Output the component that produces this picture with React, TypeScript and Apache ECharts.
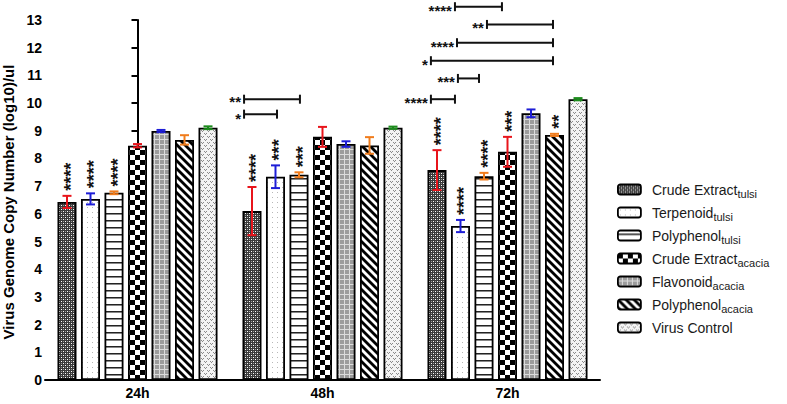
import React, { useEffect, useRef } from 'react';
import * as echarts from 'echarts';

const categories = ['24h', '48h', '72h'];
const seriesMain = ['Crude Extract', 'Terpenoid', 'Polyphenol', 'Crude Extract', 'Flavonoid', 'Polyphenol', 'Virus Control'];
const seriesSub = ['tulsi', 'tulsi', 'tulsi', 'acacia', 'acacia', 'acacia', ''];

const crudeTulsi = [6.43, 6.1, 7.58];
const terpenoidTulsi = [6.54, 7.34, 5.56];
const polyphenolTulsi = [6.76, 7.41, 7.36];
const crudeAcacia = [8.46, 8.78, 8.24];
const flavonoidAcacia = [8.99, 8.52, 9.63];
const polyphenolAcacia = [8.67, 8.47, 8.85];
const virusControl = [9.11, 9.11, 10.14];

const errCrudeTulsi = [0.22, 0.87, 0.72];
const errTerpenoidTulsi = [0.2, 0.41, 0.22];
const errPolyphenolTulsi = [0.05, 0.09, 0.12];
const errCrudeAcacia = [0.06, 0.36, 0.54];
const errFlavonoidAcacia = [0.04, 0.1, 0.14];
const errPolyphenolAcacia = [0.17, 0.3, 0.04];
const errVirusControl = [0.05, 0.04, 0.04];

const starsCrudeTulsi = ['****', '****', '****'];
const starsTerpenoidTulsi = ['****', '***', '****'];
const starsPolyphenolTulsi = ['****', '***', '****'];
const starsCrudeAcacia = ['', '', '***'];
const starsFlavonoidAcacia = ['', '', ''];
const starsPolyphenolAcacia = ['', '', '**'];
const starsVirusControl = ['', '', ''];

// significance brackets: label, start/end (category units), height (log10 units)
const bracketLabels = ['**', '*', '****', '**', '****', '*', '***', '****'];
const bracketStart = [0.576, 0.576, 1.716, 1.889, 1.727, 1.586, 1.732, 1.586];
const bracketEnd = [0.878, 0.754, 1.97, 2.246, 2.246, 2.246, 1.846, 1.716];
const bracketY = [10.14, 9.6, 13.48, 12.84, 12.18, 11.53, 10.89, 10.14];

const yTicks = { min: 0, max: 13, interval: 1 };

const values = [crudeTulsi, terpenoidTulsi, polyphenolTulsi, crudeAcacia, flavonoidAcacia, polyphenolAcacia, virusControl];
const errors = [errCrudeTulsi, errTerpenoidTulsi, errPolyphenolTulsi, errCrudeAcacia, errFlavonoidAcacia, errPolyphenolAcacia, errVirusControl];
const stars = [starsCrudeTulsi, starsTerpenoidTulsi, starsPolyphenolTulsi, starsCrudeAcacia, starsFlavonoidAcacia, starsPolyphenolAcacia, starsVirusControl];

const errColors = ['#e8141b', '#1d1dd6', '#f07c1c', '#e8141b', '#1d1dd6', '#f07c1c', '#1c8c1c'];

const FONT = "'Liberation Sans', Arial, Helvetica, sans-serif";
const CAT_GAP = 0.135;
const BAR_GAP = 0.237;

function tile(w: number, h: number, draw: (ctx: CanvasRenderingContext2D) => void) {
  const c = document.createElement('canvas');
  c.width = w;
  c.height = h;
  const ctx = c.getContext('2d') as CanvasRenderingContext2D;
  draw(ctx);
  return { image: c.toDataURL(), repeat: 'repeat', imageWidth: w, imageHeight: h } as any;
}

function makePatterns() {
  const p1 = tile(4, 4, (ctx) => {
    ctx.fillStyle = '#3a3a3a';
    ctx.fillRect(0, 0, 4, 4);
    ctx.fillStyle = '#ffffff';
    ctx.fillRect(1, 1, 1, 1);
    ctx.fillRect(3, 3, 1, 1);
    ctx.fillStyle = '#9a9a9a';
    ctx.fillRect(1, 3, 1, 1);
    ctx.fillRect(3, 1, 1, 1);
  });
  const p2 = tile(5, 5, (ctx) => {
    ctx.fillStyle = '#ffffff';
    ctx.fillRect(0, 0, 5, 5);
    ctx.fillStyle = '#b8b8b8';
    ctx.fillRect(2, 2, 1, 1);
  });
  const p3 = tile(10, 7, (ctx) => {
    ctx.fillStyle = '#ffffff';
    ctx.fillRect(0, 0, 10, 7);
    ctx.fillStyle = '#222222';
    ctx.fillRect(0, 3, 10, 1);
    ctx.fillStyle = '#888888';
    ctx.fillRect(0, 4, 10, 1);
  });
  const p4 = tile(10, 10, (ctx) => {
    ctx.fillStyle = '#ffffff';
    ctx.fillRect(0, 0, 10, 10);
    ctx.fillStyle = '#000000';
    ctx.fillRect(0, 0, 5, 5);
    ctx.fillRect(5, 5, 5, 5);
  });
  const p5 = tile(5, 5, (ctx) => {
    ctx.fillStyle = '#9c9c9c';
    ctx.fillRect(0, 0, 5, 5);
    ctx.fillStyle = '#dcdcdc';
    ctx.fillRect(4, 0, 1, 5);
    ctx.fillRect(0, 4, 5, 1);
  });
  const p6 = tile(8, 8, (ctx) => {
    ctx.fillStyle = '#ffffff';
    ctx.fillRect(0, 0, 8, 8);
    ctx.strokeStyle = '#000000';
    ctx.lineWidth = 2.8;
    for (const o of [-8, 0, 8]) {
      ctx.beginPath();
      ctx.moveTo(o - 2, -2);
      ctx.lineTo(o + 10, 10);
      ctx.stroke();
    }
  });
  const p7 = tile(6, 6, (ctx) => {
    ctx.fillStyle = '#f4f4f4';
    ctx.fillRect(0, 0, 6, 6);
    ctx.fillStyle = '#8a8a8a';
    ctx.fillRect(0, 1, 1, 1);
    ctx.fillRect(1, 2, 1, 1);
    ctx.fillRect(2, 1, 1, 1);
    ctx.fillRect(3, 4, 1, 1);
    ctx.fillRect(4, 5, 1, 1);
    ctx.fillRect(5, 4, 1, 1);
  });
  return [p1, p2, p3, p4, p5, p6, p7];
}

function seriesName(i: number) {
  return seriesSub[i] ? `${seriesMain[i]} ${seriesSub[i]}` : seriesMain[i];
}

// labels of brackets sharing a start and lying very close are nudged apart slightly
function nudge(i: number) {
  let d = 0;
  for (let j = 0; j < bracketLabels.length; j++) {
    if (j === i || Math.abs(bracketStart[j] - bracketStart[i]) > 1e-6) continue;
    const diff = bracketY[i] - bracketY[j];
    if (Math.abs(diff) < 0.7) d += diff > 0 ? -1.2 : 1.2;
  }
  return d;
}

export default function App() {
  const ref = useRef<HTMLDivElement>(null);

  useEffect(() => {
    if (!ref.current) return;
    const chart = echarts.init(ref.current, undefined, { renderer: 'svg' });
    const patterns = makePatterns();
    const n = seriesMain.length;
    const remained = 1 - CAT_GAP;
    const w = remained / (n + (n - 1) * BAR_GAP);
    const barCenter = (cat: number, s: number) => cat - remained / 2 + s * w * (1 + BAR_GAP) + w / 2;
    const names = values.map((_, i) => seriesName(i));

    const barSeries = values.map((vals, i) => ({
      name: names[i],
      type: 'bar',
      data: vals,
      barCategoryGap: `${CAT_GAP * 100}%`,
      barGap: `${BAR_GAP * 100}%`,
      itemStyle: { color: patterns[i], borderColor: '#000', borderWidth: 1.8 },
      z: 2,
    }));

    const errData: any[] = [];
    values.forEach((vals, i) => {
      vals.forEach((v, c) => {
        errData.push([barCenter(c, i), v, errors[i][c], i, c]);
      });
    });

    const bracketData = bracketLabels.map((_, i) => [bracketStart[i], bracketEnd[i], bracketY[i], i]);

    const option: any = {
      animation: false,
      backgroundColor: '#fff',
      grid: { left: 45, right: 187, top: 20, bottom: 24, containLabel: false, outerBoundsMode: 'none' },
      legend: {
        data: names,
        orient: 'vertical',
        left: 617,
        top: 180,
        padding: 0,
        itemWidth: 23,
        itemHeight: 10,
        itemGap: 4,
        selectedMode: false,
        itemStyle: { borderColor: '#000', borderWidth: 1.8 },
        formatter: (name: string) => {
          const i = names.indexOf(name);
          return `{m|${seriesMain[i]}}{s|${seriesSub[i] || ' '}}`;
        },
        textStyle: {
          fontFamily: FONT,
          color: '#1a1a1a',
          rich: {
            m: { fontSize: 14, fontFamily: FONT, color: '#1a1a1a', lineHeight: 16, padding: [0, 0, 0, 6] },
            s: { fontSize: 11, fontFamily: FONT, color: '#1a1a1a', lineHeight: 11, padding: [8, 0, 0, 0] },
          },
        },
      },
      xAxis: [
        {
          type: 'category',
          data: categories,
          axisLine: { lineStyle: { color: '#000', width: 2 } },
          axisTick: { alignWithLabel: true, length: 5, lineStyle: { color: '#000', width: 2 } },
          axisLabel: { color: '#000', fontWeight: 'bold', fontSize: 14, fontFamily: FONT, margin: 6 },
        },
        { type: 'value', min: -0.5, max: 2.5, show: false },
      ],
      yAxis: {
        type: 'value',
        min: yTicks.min,
        max: yTicks.max,
        interval: yTicks.interval,
        name: 'Virus Genome Copy Number (log10)/ul',
        nameLocation: 'middle',
        nameGap: 29,
        nameTextStyle: { color: '#000', fontWeight: 'bold', fontSize: 15, fontFamily: FONT, padding: [0, 4, 0, 0] },
        axisLine: { show: true, lineStyle: { color: '#000', width: 2 } },
        axisTick: { show: true, length: 6, lineStyle: { color: '#000', width: 2 } },
        axisLabel: { color: '#000', fontWeight: 'bold', fontSize: 14, fontFamily: FONT, margin: 3 },
        splitLine: { show: false },
      },
      series: [
        ...barSeries,
        {
          type: 'custom',
          name: 'errors',
          xAxisIndex: 1,
          clip: false,
          z: 5,
          data: errData,
          renderItem: (_p: any, api: any) => {
            const u = api.value(0);
            const m = api.value(1);
            const e = api.value(2);
            const si = api.value(3);
            const ci = api.value(4);
            const top = api.coord([u, m + e]);
            const bot = api.coord([u, m - e]);
            const x = top[0];
            const cap = 4.5;
            const color = errColors[si];
            const st = { stroke: color, lineWidth: 2 };
            const children: any[] = [
              { type: 'line', shape: { x1: x, y1: top[1], x2: x, y2: bot[1] }, style: st },
              { type: 'line', shape: { x1: x - cap, y1: top[1], x2: x + cap, y2: top[1] }, style: st },
              { type: 'line', shape: { x1: x - cap, y1: bot[1], x2: x + cap, y2: bot[1] }, style: st },
            ];
            const label = stars[si][ci];
            if (label) {
              children.push({
                type: 'text',
                x: x + 4,
                y: top[1] - 5,
                rotation: Math.PI / 2,
                style: {
                  text: label,
                  font: `bold 18px ${FONT}`,
                  fill: '#111',
                  align: 'left',
                  verticalAlign: 'middle',
                },
              });
            }
            return { type: 'group', children };
          },
        },
        {
          type: 'custom',
          name: 'brackets',
          xAxisIndex: 1,
          clip: false,
          z: 5,
          data: bracketData,
          renderItem: (_p: any, api: any) => {
            const idx = api.value(3);
            const a = api.coord([api.value(0), api.value(2)]);
            const b = api.coord([api.value(1), api.value(2)]);
            const st = { stroke: '#111', lineWidth: 2 };
            const h = 4.5;
            return {
              type: 'group',
              children: [
                { type: 'line', shape: { x1: a[0], y1: a[1], x2: b[0], y2: b[1] }, style: st },
                { type: 'line', shape: { x1: a[0], y1: a[1] - h, x2: a[0], y2: a[1] + h }, style: st },
                { type: 'line', shape: { x1: b[0], y1: b[1] - h, x2: b[0], y2: b[1] + h }, style: st },
                {
                  type: 'text',
                  x: a[0] - 3,
                  y: a[1] + 3.5 + nudge(idx),
                  style: {
                    text: bracketLabels[idx],
                    font: `bold 15px ${FONT}`,
                    fill: '#111',
                    align: 'right',
                    verticalAlign: 'middle',
                  },
                },
              ],
            };
          },
        },
      ],
    };

    chart.setOption(option);
    return () => chart.dispose();
  }, []);

  return <div ref={ref} style={{ width: 787, height: 404, position: 'absolute', left: 0, top: 0 }} />;
}
